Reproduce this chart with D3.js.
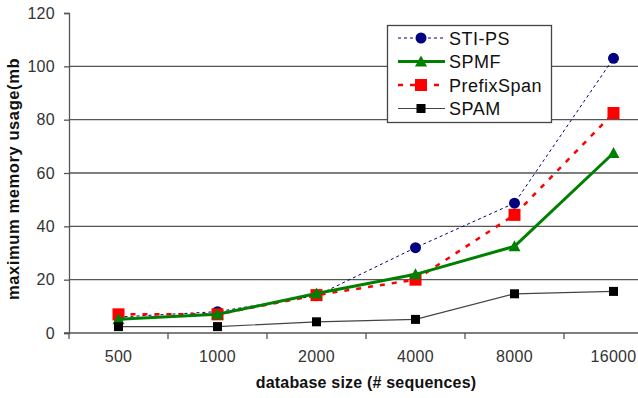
<!DOCTYPE html>
<html>
<head>
<meta charset="utf-8">
<script src="https://cdn.jsdelivr.net/npm/d3@7"></script>
<style>
  body { margin: 0; background: #fff; }
  svg { display: block; font-family: Arial, "Liberation Sans", sans-serif; }
</style>
</head>
<body>
<svg id="chart" width="638" height="398"></svg>
<script>
// data
const sizes = ["500", "1000", "2000", "4000", "8000", "16000"];
const stiPs = [6, 8, 14, 32, 48.7, 103];
const spmf = [5.2, 7, 14.8, 22, 32.5, 67.5];
const prefixSpan = [7, 7, 14.2, 20, 44.3, 82.5];
const spam = [2.4, 2.4, 4.2, 5.1, 14.7, 15.6];
const yTicks = [0, 20, 40, 60, 80, 100, 120];

const series = [
  { name: "STI-PS", values: stiPs, color: "#000080", width: 1, dash: "3,3", marker: "circle" },
  { name: "PrefixSpan", values: prefixSpan, color: "#ff0000", width: 2.5, dash: "5,7", marker: "bigsquare" },
  { name: "SPMF", values: spmf, color: "#008000", width: 3, dash: null, marker: "triangle" },
  { name: "SPAM", values: spam, color: "#444", width: 1.2, dash: null, marker: "square", fill: "#000" }
];
const legendOrder = ["STI-PS", "SPMF", "PrefixSpan", "SPAM"];

const svg = d3.select("#chart");
const padLeft = 69, padTop = 13, baseY = 333, padRight = 663;

const x = d3.scaleBand().domain(sizes).range([padLeft, padRight]);
const y = d3.scaleLinear().domain([0, 120]).range([baseY, padTop]);

// grid lines
svg.append("g")
  .selectAll("line")
  .data(yTicks.filter(d => d > 0 && d < 120))
  .enter().append("line")
  .attr("x1", padLeft).attr("x2", padRight)
  .attr("y1", d => y(d)).attr("y2", d => y(d))
  .attr("stroke", "#555").attr("stroke-width", 1.3);

// y axis
const yAxis = svg.append("g")
  .attr("transform", `translate(${padLeft},0)`)
  .call(d3.axisLeft(y).tickValues(yTicks).tickSize(5).tickPadding(9));
yAxis.select(".domain").attr("stroke", "#555").attr("stroke-width", 1.3);
yAxis.selectAll(".tick line").attr("stroke", "#555").attr("stroke-width", 1.3);
yAxis.selectAll("text").attr("font-size", 16).attr("fill", "#333")
  .attr("letter-spacing", 0.3)
  .attr("font-family", "Arial, 'Liberation Sans', sans-serif");

// x axis: ticks on band boundaries
svg.append("line")
  .attr("x1", padLeft - 5).attr("x2", padRight)
  .attr("y1", baseY).attr("y2", baseY)
  .attr("stroke", "#555").attr("stroke-width", 1.3);
svg.append("g")
  .selectAll("line")
  .data(sizes)
  .enter().append("line")
  .attr("x1", d => x(d)).attr("x2", d => x(d))
  .attr("y1", baseY).attr("y2", baseY + 6)
  .attr("stroke", "#555").attr("stroke-width", 1.3);
svg.append("g")
  .selectAll("text")
  .data(sizes)
  .enter().append("text")
  .attr("x", d => x(d) + x.bandwidth() / 2)
  .attr("y", 362)
  .attr("text-anchor", "middle")
  .attr("font-size", 16)
  .attr("letter-spacing", 0.3)
  .attr("fill", "#333")
  .text(d => d);

// axis titles
svg.append("text")
  .attr("x", 366).attr("y", 388)
  .attr("text-anchor", "middle")
  .attr("font-size", 16).attr("font-weight", "bold")
  .attr("letter-spacing", 0.2)
  .attr("fill", "#111")
  .text("database size (# sequences)");
svg.append("text")
  .attr("transform", "translate(19,300) rotate(-90)")
  .attr("text-anchor", "start")
  .attr("font-size", 16.5).attr("font-weight", "bold")
  .attr("letter-spacing", 0.6)
  .attr("fill", "#111")
  .text("maximum memory usage(mb");

function drawMarker(g, s, cx, cy) {
  if (s.marker === "circle") {
    g.append("circle").attr("cx", cx).attr("cy", cy).attr("r", 5.5).attr("fill", s.color);
  } else if (s.marker === "triangle") {
    g.append("path")
      .attr("d", `M${cx},${cy - 6}L${cx + 6},${cy + 5}L${cx - 6},${cy + 5}Z`)
      .attr("fill", s.color);
  } else if (s.marker === "bigsquare") {
    g.append("rect").attr("x", cx - 6).attr("y", cy - 6).attr("width", 12).attr("height", 12).attr("fill", s.color);
  } else {
    g.append("rect").attr("x", cx - 4.5).attr("y", cy - 4.5).attr("width", 9).attr("height", 9).attr("fill", s.fill);
  }
}

const line = d3.line()
  .x((d, i) => x(sizes[i]) + x.bandwidth() / 2)
  .y(d => y(d));

series.forEach(s => {
  const g = svg.append("g");
  g.append("path")
    .attr("d", line(s.values))
    .attr("fill", "none")
    .attr("stroke", s.color)
    .attr("stroke-width", s.width)
    .attr("stroke-dasharray", s.dash);
  s.values.forEach((v, i) => drawMarker(g, s, x(sizes[i]) + x.bandwidth() / 2, y(v)));
});

// legend
const legend = svg.append("g");
legend.append("rect")
  .attr("x", 387.5).attr("y", 25.5)
  .attr("width", 164).attr("height", 97)
  .attr("fill", "#fff").attr("stroke", "#444").attr("stroke-width", 1.3);
legendOrder.forEach((name, i) => {
  const s = series.find(d => d.name === name);
  const ly = 38 + i * 23.5;
  legend.append("line")
    .attr("x1", 398).attr("x2", 445)
    .attr("y1", ly).attr("y2", ly)
    .attr("stroke", s.color)
    .attr("stroke-width", s.width)
    .attr("stroke-dasharray", s.dash);
  drawMarker(legend, s, 421, ly);
  legend.append("text")
    .attr("x", 449).attr("y", ly + 6.5)
    .attr("font-size", 18)
    .attr("letter-spacing", 0.5)
    .attr("fill", "#111")
    .text(name);
});
</script>
</body>
</html>
